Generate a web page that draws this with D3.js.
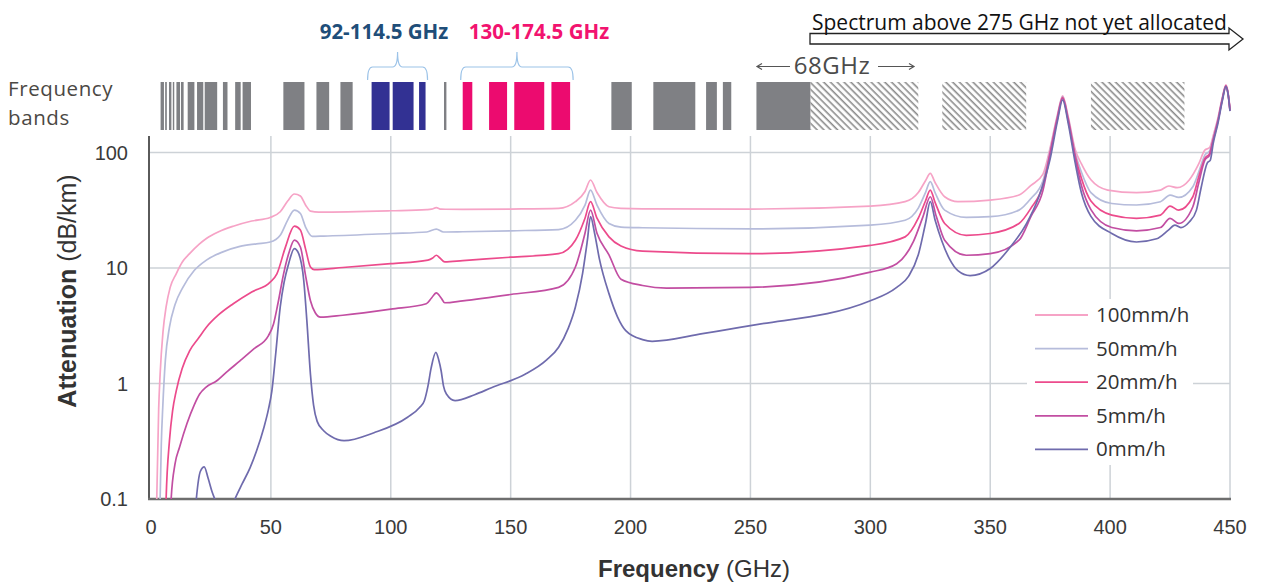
<!DOCTYPE html>
<html lang="en">
<head>
	<meta charset="utf-8">
	<title>Rain attenuation and frequency bands</title>
	<script src="https://d3js.org/d3.v7.min.js" charset="utf-8"></script>
	<style>
		body {
		    margin: 0;
		    background: #fff;
		    font-family: "Liberation Sans", Arial, sans-serif;
		}
		.grid line { stroke: #cdd2d7; stroke-width: 1.5; }
		.tick-label { font-size: 20px; fill: #3a3a3a; }
		.axis-title { font-size: 24px; fill: #333; }
		.note { font-family: "Open Sans", sans-serif; }
		.legend text { font-family: "Open Sans", sans-serif; font-size: 20.5px; fill: #333; }
		.curve { fill: none; stroke-width: 1.7; }
	</style>
</head>
<body>
	<script>
		var width = 1261;
		var height = 583;

		// attenuation curves, [GHz, dB/km]
		var rain100 = [[1.8,0.02],[2.4,0.1],[3.2,0.6],[3.8,1.2],[5,2.8],[6.3,4.6],[8,6.8],[10.5,8.9],[13,11.2],[16.1,13.3],[20,16],[23.1,18],[28,20.5],[34.3,23],[42,25.5],[49.7,27.4],[53.9,30.7],[57,38],[59.8,43.7],[62.3,42],[64.5,35],[66.5,31.1],[70,30.5],[100,31.3],[115,32],[117,32.3],[119,33.3],[121,32.3],[130,32.2],[150,32.4],[170,32.8],[177,37.5],[181,46],[183.3,57.8],[186,45],[191,33.9],[196,32.8],[205,32.5],[250,32.4],[300,34.4],[314.5,37.5],[320,45],[323,57],[325,66],[327,55],[331,41.4],[336.5,37.5],[350,38.7],[362,42.8],[367,52],[372,65],[375,110],[378,210],[380.2,310],[382.5,205],[385.5,105],[388,80],[392,58],[399,47.3],[411,44.9],[421,47.3],[424.5,51.3],[428,49.6],[433,57.8],[437,80],[439.5,105],[441.5,110],[443,140],[445,200],[446.8,300],[448.3,385],[449.2,330],[450,240]];
		var rain50 = [[3.2,0.02],[3.8,0.1],[4.3,0.3],[4.9,0.62],[6,1.6],[7.7,3.07],[10,4.8],[13.3,6.8],[18,9.5],[23.1,11.7],[30,13.8],[37.1,15.4],[44,16.2],[49.7,16.8],[53.9,19.2],[57,26],[59.8,31.7],[62.3,29.6],[64.5,22.5],[67.2,18.8],[72,18.9],[100,19.9],[115,20.5],[119,21.7],[122,20.5],[130,20.6],[150,21],[170,21.5],[177,25.9],[181,35],[183.3,47.3],[186,35],[191,24.3],[196,22.6],[205,22.3],[250,21.8],[300,23.5],[314.5,25.9],[320,33],[323,45],[325,56],[327,45],[331,31.7],[340,27.4],[350,27.8],[362,31.7],[367,40],[372,57],[375,105],[378,205],[380.2,305],[382.5,200],[385.5,98],[388,68],[392,45],[400.7,36.2],[411,35.1],[421,37.5],[425,42.8],[428.6,40.9],[434.5,50.6],[437,68],[439.5,95],[441.5,103],[443,135],[445,195],[446.8,295],[448.3,380],[449.2,325],[450,235]];
		var rain20 = [[5.5,0.02],[6.3,0.1],[7.7,0.32],[9,0.58],[10.5,0.86],[13,1.35],[16.1,1.92],[20,2.5],[23.1,3.07],[28,3.9],[34.3,4.9],[42,6.2],[49.7,7.55],[52.5,8.9],[56,15],[59.8,23],[62.3,21.3],[64.5,14.5],[66.5,10.2],[68,9.7],[80,10.1],[100,10.9],[115.5,11.7],[117.5,12.2],[119,12.9],[120.5,12.2],[122.5,11.3],[130,11.6],[150,12.4],[170,13.3],[177,17.4],[181,27],[183.3,37.5],[186,27],[191,18.6],[196,15.5],[205,14],[250,13.3],[300,15.7],[314.5,18.6],[320,27],[323,38],[325,47.3],[327,37],[331,24.3],[340,19.2],[350,19.9],[362,24.3],[367,33],[372,52],[375,100],[378,200],[380.2,300],[382.5,195],[385.5,93],[388,60],[392,38],[400.7,28.7],[411,26.9],[421,28.7],[425,34.4],[428.6,31.7],[434.5,41.4],[437,62],[439.5,89],[441.5,98],[443,130],[445,190],[446.8,290],[448.3,378],[449.2,322],[450,232]];
		var rain5 = [[7.5,0.02],[8.4,0.1],[10,0.2],[11.9,0.28],[15,0.45],[18,0.65],[20.3,0.81],[23,0.93],[27.3,1.05],[32,1.28],[37.1,1.57],[43,2],[49,2.6],[51.1,3.28],[53,5],[55.3,8.9],[57.5,13.5],[59.8,17.4],[62.3,15.2],[64.5,8.5],[66.5,5.2],[68.5,4.1],[70.7,3.75],[80,3.9],[100,4.4],[114.8,4.9],[117,5.5],[119,6.1],[121,5.5],[122.5,5],[130,5.2],[150,5.9],[170,6.8],[177,10.2],[181,20],[183.3,31.7],[186,20],[191,13],[196,8],[205,7.06],[215,6.7],[250,6.8],[300,9.2],[311,10.9],[318,17],[322,28],[325,41.4],[327.5,28],[331,17.4],[340,12.9],[350,13.3],[362,17.4],[367,28],[372,47],[375,97],[378,195],[380.2,295],[382.5,190],[385.5,88],[388,52],[392,32],[400.7,22.4],[411,21],[421,22.4],[425,26.9],[428.6,24.3],[434.5,33.9],[437,55],[439.5,86],[441.5,95],[443,128],[445,188],[446.8,288],[448.3,376],[449.2,320],[450,230]];
		var rain0 = [[17.5,0.04],[18.9,0.1],[20.6,0.174],[22.2,0.19],[23.8,0.152],[25.5,0.115],[26.6,0.1],[30,0.07],[33,0.08],[35,0.1],[38,0.135],[41.3,0.186],[44,0.26],[47,0.41],[49,0.6],[50.4,0.86],[52,1.8],[53.9,4.6],[55.5,7.5],[57.4,10.9],[59.8,14.7],[61.6,13.3],[63.7,7.8],[65,3.5],[66.5,1.2],[67.8,0.65],[69.3,0.47],[72,0.39],[75,0.35],[80.5,0.32],[93,0.375],[107,0.51],[112,0.62],[114,0.71],[115.5,0.95],[116.8,1.35],[118.8,1.86],[120,1.6],[121,1.29],[122,0.95],[123.2,0.81],[126.8,0.71],[135,0.8],[142,0.92],[156,1.2],[165,1.6],[170,2.06],[174,3],[177,4.6],[180,9],[182,17.4],[183.3,27.8],[185,20],[187,12],[191,6],[194.5,3.8],[198,2.87],[205,2.4],[209,2.32],[230,2.7],[250,3.17],[300,5.2],[311,6.8],[316,8.5],[320,13],[323,24.3],[325,37.5],[327,26],[329.7,17.4],[333,12],[336.5,9.5],[341.6,8.6],[350,9.9],[358.4,15.2],[365,24],[370,40],[375,88],[378,185],[380.2,285],[382.5,180],[385.5,80],[388,45],[392,28],[400.7,19.9],[411,16.8],[419.4,17.9],[424.3,21.3],[427,23.5],[429.5,22.4],[433,25],[436,31.7],[438,50],[440.5,81],[441.8,86],[443,120],[445,180],[446.8,280],[448.3,372],[449.2,318],[450,228]];

		var seriesNames = ["100mm/h", "50mm/h", "20mm/h", "5mm/h", "0mm/h"];
		var seriesData = [rain100, rain50, rain20, rain5, rain0];
		var seriesColors = ["#f6a3c6", "#b6bcdb", "#ec4b8c", "#c24ea2", "#6f6bad"];

		// allocated bands along the top, [from GHz, to GHz]
		var grayBands = [[4,5.4],[5.9,6.6],[7.5,8.5],[9.1,9.7],[10.6,12.1],[12.5,13.6],[15.3,18.1],[19.2,21.8],[22.4,27.6],[30,31.9],[35.1,37.4],[38.2,41.7],
		                 [55.2,64],[69,74.3],[79,84.1],[122.2,123.2],
		                 [192,200.5],[209.5,227],[231.5,236],[238.5,242],[252.5,275]];
		var blueBands = [[92,99.5],[100.8,109.5],[111.8,114.5]];
		var pinkBands = [[130,134],[141,148.5],[151.5,164],[167,174.8]];
		var hatchBands = [[275,320],[330,365],[392,431]];

		var xTicks = [0, 50, 100, 150, 200, 250, 300, 350, 400, 450];
		var yTicks = [0.1, 1, 10, 100];
		var yTickLabels = ["0.1", "1", "10", "100"];

		var x = d3.scaleLinear().domain([0, 450]).range([151, 1230]);
		var y = d3.scaleLog().domain([0.1, 100]).range([499, 152.5]);
		var plotTop = 136;

		var svg = d3.select("body")
		    .append("svg")
		    .attr("width", width)
		    .attr("height", height);

		var defs = svg.append("defs");
		defs.append("clipPath").attr("id", "plotClip")
		    .append("rect").attr("x", 149).attr("y", 0).attr("width", 1100).attr("height", y(0.1));

		var hatch = defs.append("pattern")
		    .attr("id", "hatch")
		    .attr("patternUnits", "userSpaceOnUse")
		    .attr("width", 4.8).attr("height", 4.8)
		    .attr("patternTransform", "rotate(-45)");
		hatch.append("line")
		    .attr("x1", 1.2).attr("y1", 0).attr("x2", 1.2).attr("y2", 4.8)
		    .attr("stroke", "#8a8a8a").attr("stroke-width", 1.6);

		// grid
		var grid = svg.append("g").attr("class", "grid");
		grid.selectAll("line.v")
		    .data(xTicks.slice(1))
		    .enter().append("line")
		    .attr("class", "v")
		    .attr("x1", function(d) { return x(d); })
		    .attr("x2", function(d) { return x(d); })
		    .attr("y1", plotTop)
		    .attr("y2", y(0.1));
		grid.selectAll("line.h")
		    .data(yTicks.slice(1))
		    .enter().append("line")
		    .attr("class", "h")
		    .attr("x1", x(0) - 2)
		    .attr("x2", x(450))
		    .attr("y1", function(d) { return y(d); })
		    .attr("y2", function(d) { return y(d); });

		// legend box sits over the grid, under the curves
		svg.append("rect")
		    .attr("x", 1027).attr("y", 299)
		    .attr("width", 166).attr("height", 166)
		    .attr("fill", "#fff");

		// axes
		svg.append("line")
		    .attr("x1", 149).attr("x2", 149)
		    .attr("y1", plotTop).attr("y2", y(0.1) + 1)
		    .attr("stroke", "#5a5a5a").attr("stroke-width", 2);
		svg.append("line")
		    .attr("x1", 148).attr("x2", x(450) + 1)
		    .attr("y1", y(0.1)).attr("y2", y(0.1))
		    .attr("stroke", "#6e6e6e").attr("stroke-width", 2.6);

		svg.selectAll("text.xtick")
		    .data(xTicks)
		    .enter().append("text")
		    .attr("class", "tick-label xtick")
		    .attr("x", function(d) { return x(d); })
		    .attr("y", 534)
		    .attr("text-anchor", "middle")
		    .text(function(d) { return d; });

		svg.selectAll("text.ytick")
		    .data(yTicks)
		    .enter().append("text")
		    .attr("class", "tick-label ytick")
		    .attr("x", 128)
		    .attr("y", function(d) { return y(d) + 7; })
		    .attr("text-anchor", "end")
		    .text(function(d, i) { return yTickLabels[i]; });

		var xt = svg.append("text")
		    .attr("class", "axis-title")
		    .attr("x", 694).attr("y", 577)
		    .attr("text-anchor", "middle");
		xt.append("tspan").attr("font-weight", "bold").text("Frequency");
		xt.append("tspan").text(" (GHz)");

		var yt = svg.append("text")
		    .attr("class", "axis-title")
		    .attr("transform", "translate(76,291) rotate(-90)")
		    .attr("text-anchor", "middle")
		    .style("font-size", "25px");
		yt.append("tspan").attr("font-weight", "bold").text("Attenuation");
		yt.append("tspan").text(" (dB/km)");

		// curves
		var line = d3.line()
		    .x(function(d) { return x(d[0]); })
		    .y(function(d) { return y(d[1]); })
		    .curve(d3.curveMonotoneX);

		svg.append("g")
		    .attr("clip-path", "url(#plotClip)")
		    .selectAll("path")
		    .data(seriesData)
		    .enter().append("path")
		    .attr("class", "curve")
		    .attr("stroke", function(d, i) { return seriesColors[i]; })
		    .attr("d", line);

		// legend
		var legend = svg.append("g").attr("class", "legend");
		var rows = legend.selectAll("g")
		    .data(seriesNames)
		    .enter().append("g")
		    .attr("transform", function(d, i) { return "translate(0," + (315 + i * 33.6) + ")"; });
		rows.append("line")
		    .attr("x1", 1035).attr("x2", 1088)
		    .attr("stroke", function(d, i) { return seriesColors[i]; })
		    .attr("stroke-width", 1.8);
		rows.append("text")
		    .attr("x", 1096).attr("y", 7)
		    .text(function(d) { return d; });

		// frequency band strip
		var bandTop = 82, bandH = 48;
		function drawBands(list, fill) {
		    svg.append("g").selectAll("rect")
		        .data(list)
		        .enter().append("rect")
		        .attr("x", function(d) { return x(d[0]); })
		        .attr("width", function(d) { return x(d[1]) - x(d[0]); })
		        .attr("y", bandTop)
		        .attr("height", bandH)
		        .attr("fill", fill);
		}
		drawBands(grayBands, "#7f8084");
		drawBands(blueBands, "#323193");
		drawBands(pinkBands, "#ec0b6f");
		drawBands(hatchBands, "url(#hatch)");

		svg.append("text").attr("class", "note")
		    .attr("x", 8).attr("y", 96)
		    .attr("font-size", 20.5).attr("letter-spacing", 0.6).attr("fill", "#4b4844")
		    .text("Frequency");
		svg.append("text").attr("class", "note")
		    .attr("x", 8).attr("y", 125)
		    .attr("font-size", 20.5).attr("letter-spacing", 0.6).attr("fill", "#4b4844")
		    .text("bands");

		// braces over the two highlighted ranges
		function brace(x0, x1) {
		    var m = (x0 + x1) / 2, yb = 80, yh = 67, yt = 52;
		    return "M" + x0 + "," + yb + " Q" + x0 + "," + yh + " " + (x0 + 5) + "," + yh +
		        " L" + (m - 5) + "," + yh + " Q" + m + "," + yh + " " + m + "," + yt +
		        " Q" + m + "," + yh + " " + (m + 5) + "," + yh +
		        " L" + (x1 - 5) + "," + yh + " Q" + x1 + "," + yh + " " + x1 + "," + yb;
		}
		svg.append("path")
		    .attr("d", brace(x(blueBands[0][0]) - 4, x(blueBands[2][1]) + 2))
		    .attr("fill", "none").attr("stroke", "#9cc3e8").attr("stroke-width", 1.2);
		svg.append("path")
		    .attr("d", brace(x(pinkBands[0][0]) - 2, x(pinkBands[3][1]) + 3))
		    .attr("fill", "none").attr("stroke", "#9cc3e8").attr("stroke-width", 1.2);

		svg.append("text").attr("class", "note")
		    .attr("x", 384).attr("y", 39)
		    .attr("text-anchor", "middle")
		    .attr("font-size", 20.5).attr("font-weight", "bold").attr("fill", "#1f4e79")
		    .text("92-114.5 GHz");
		svg.append("text").attr("class", "note")
		    .attr("x", 539).attr("y", 39)
		    .attr("text-anchor", "middle")
		    .attr("font-size", 20.5).attr("font-weight", "bold").attr("fill", "#f2136f")
		    .text("130-174.5 GHz");

		// 68 GHz span marker
		var arrowY = 66.5;
		var marker = svg.append("g").attr("stroke", "#555").attr("stroke-width", 1.2).attr("fill", "none");
		marker.append("path").attr("d", "M757," + arrowY + " L790," + arrowY + " M762," + (arrowY - 3) + " L757," + arrowY + " L762," + (arrowY + 3));
		marker.append("path").attr("d", "M878," + arrowY + " L914," + arrowY + " M909," + (arrowY - 3) + " L914," + arrowY + " L909," + (arrowY + 3));
		svg.append("text").attr("class", "note")
		    .attr("x", 832).attr("y", 74)
		    .attr("text-anchor", "middle")
		    .attr("font-size", 24).attr("letter-spacing", 0.5).attr("fill", "#4b4b4b")
		    .text("68GHz");

		// unallocated spectrum arrow
		svg.append("path")
		    .attr("d", "M810,33.5 L1229,33.5 L1229,28 L1243,39 L1229,50 L1229,44 L810,44 Z")
		    .attr("fill", "#fff").attr("stroke", "#222").attr("stroke-width", 1.3);
		svg.append("text").attr("class", "note")
		    .attr("x", 812).attr("y", 30)
		    .attr("font-size", 21).attr("fill", "#111")
		    .text("Spectrum above 275 GHz not yet allocated");
	</script>
</body>
</html>
